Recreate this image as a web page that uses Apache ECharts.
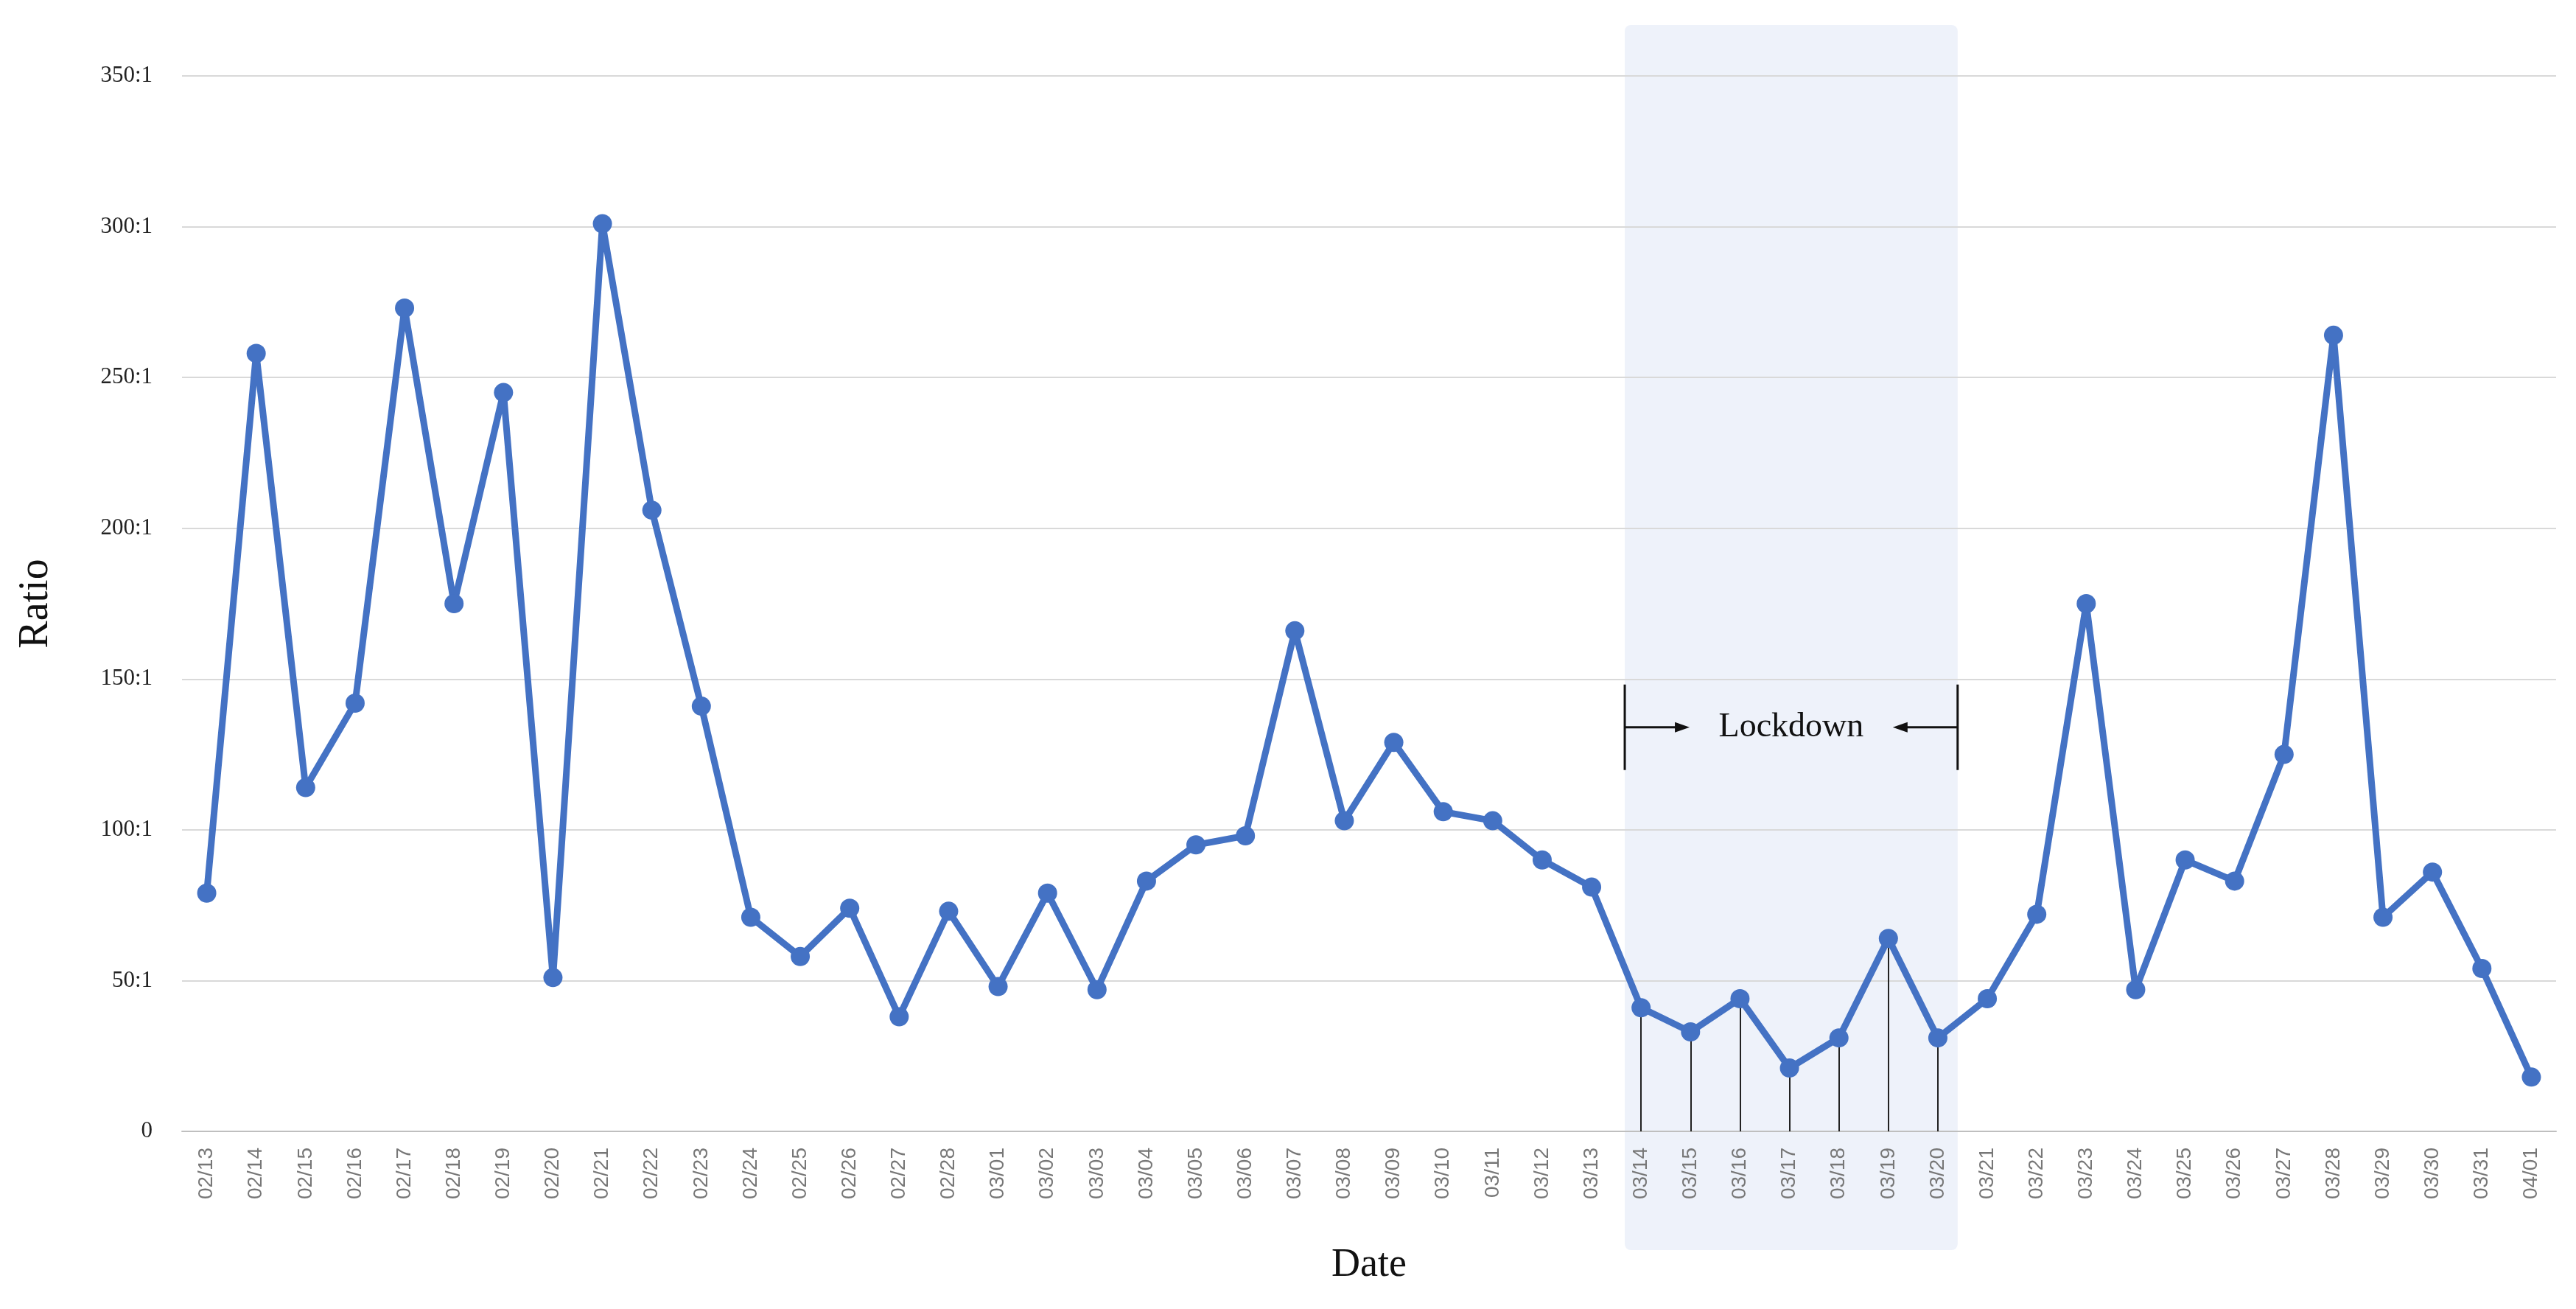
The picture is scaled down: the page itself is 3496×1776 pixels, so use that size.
<!DOCTYPE html>
<html><head><meta charset="utf-8">
<script src="https://cdn.jsdelivr.net/npm/echarts@6/dist/echarts.min.js"></script>
<style>html,body{margin:0;background:#fff}#c{width:3496px;height:1776px}</style>
</head><body><div id="c"></div>
<script>
var dates = ['02/13','02/14','02/15','02/16','02/17','02/18','02/19','02/20','02/21','02/22','02/23','02/24','02/25','02/26','02/27','02/28','03/01','03/02','03/03','03/04','03/05','03/06','03/07','03/08','03/09','03/10','03/11','03/12','03/13','03/14','03/15','03/16','03/17','03/18','03/19','03/20','03/21','03/22','03/23','03/24','03/25','03/26','03/27','03/28','03/29','03/30','03/31','04/01'];
var ratios = [79,258,114,142,273,175,245,51,301,206,141,71,58,74,38,73,48,79,47,83,95,98,166,103,129,106,103,90,81,41,33,44,21,31,64,31,44,72,175,47,90,83,125,264,71,86,54,18];
var lockStart = '03/14', lockEnd = '03/20';
var serif = 'Liberation Serif';

var chart = echarts.init(document.getElementById('c'));
var i0 = dates.indexOf(lockStart), i1 = dates.indexOf(lockEnd);
var drops = [];
for (var i = i0; i <= i1; i++) {
  drops.push([{xAxis: dates[i], yAxis: ratios[i]}, {xAxis: dates[i], yAxis: 0}]);
}

chart.setOption({
  animation: false,
  grid: {left: 247, right: 27, top: 103, bottom: 241},
  xAxis: {
    type: 'category', data: dates, boundaryGap: true,
    name: 'Date', nameLocation: 'middle', nameGap: 155,
    nameTextStyle: {fontFamily: serif, fontSize: 54, color: '#111'},
    axisLine: {lineStyle: {color: '#bfbfbf', width: 2}},
    axisTick: {show: false},
    axisLabel: {rotate: 90, interval: 0, fontSize: 28, color: '#777', fontFamily: 'Liberation Sans', margin: 22}
  },
  yAxis: {
    type: 'value', min: 0, max: 350, interval: 50,
    name: 'Ratio', nameLocation: 'middle', nameGap: 170,
    nameTextStyle: {fontFamily: serif, fontSize: 56, color: '#111'},
    axisLabel: {fontFamily: serif, fontSize: 31, color: '#222', margin: 40,
      formatter: function (v) { return v === 0 ? '0' : v + ':1'; }},
    splitLine: {lineStyle: {color: '#d9d9d9', width: 2}},
    axisLine: {show: false}, axisTick: {show: false}
  },
  series: [{
    type: 'line', data: ratios, z: 5,
    lineStyle: {color: '#4472C4', width: 9},
    itemStyle: {color: '#4472C4'},
    symbol: 'circle', symbolSize: 26,
    markLine: {silent: true, symbol: 'none', label: {show: false},
      lineStyle: {color: '#222', width: 2, type: 'solid'}, data: drops}
  }]
});

var band = chart.convertToPixel({xAxisIndex: 0}, 1) - chart.convertToPixel({xAxisIndex: 0}, 0);
var xl = chart.convertToPixel({xAxisIndex: 0}, i0) - 0.33 * band;
var xr = chart.convertToPixel({xAxisIndex: 0}, i1) + 0.4 * band;
var ya = chart.convertToPixel({yAxisIndex: 0}, 134);
var xm = (xl + xr) / 2;
var ls = {stroke: '#111', lineWidth: 3};
chart.setOption({graphic: [
  {type: 'rect', z: -1, shape: {x: xl, y: 34, width: xr - xl, height: 1662, r: 8}, style: {fill: 'rgba(68,114,196,0.09)'}},
  {type: 'line', shape: {x1: xl, y1: ya - 58, x2: xl, y2: ya + 58}, style: ls},
  {type: 'line', shape: {x1: xr, y1: ya - 58, x2: xr, y2: ya + 58}, style: ls},
  {type: 'line', shape: {x1: xl, y1: ya, x2: xl + 75, y2: ya}, style: ls},
  {type: 'polygon', shape: {points: [[xl + 88, ya], [xl + 68, ya - 7], [xl + 68, ya + 7]]}, style: {fill: '#111'}},
  {type: 'line', shape: {x1: xr, y1: ya, x2: xr - 75, y2: ya}, style: ls},
  {type: 'polygon', shape: {points: [[xr - 88, ya], [xr - 68, ya - 7], [xr - 68, ya + 7]]}, style: {fill: '#111'}},
  {type: 'text', x: xm, y: ya, style: {text: 'Lockdown', fontFamily: serif, fontSize: 46, fill: '#111', align: 'center', verticalAlign: 'middle'}}
]});
</script></body></html>
